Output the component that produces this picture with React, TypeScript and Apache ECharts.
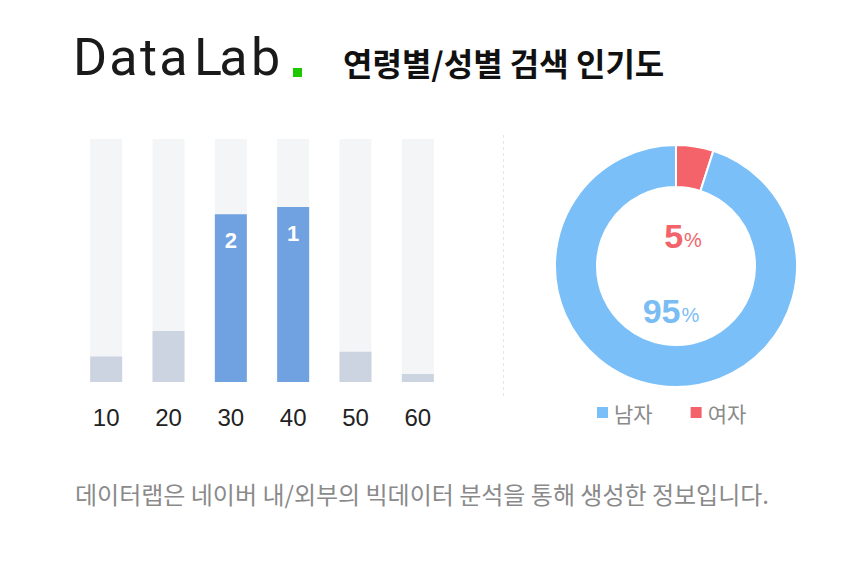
import React, { useEffect, useRef } from "react";
import * as echarts from "echarts";

const ageCategories = ["10", "20", "30", "40", "50", "60"];
const ageValues = [10.5, 21, 69, 72, 12.5, 3.3];
const ageRanks = ["", "", "2", "1", "", ""];
const genderNames = ["여자", "남자"];
const genderValues = [5, 95];
const legendOrder = ["남자", "여자"];
const titleText = "연령별/성별 검색 인기도";
const footerText = "데이터랩은 네이버 내/외부의 빅데이터 분석을 통해 생성한 정보입니다.";
const logoLetters = ["D", "a", "t", "a", "L", "a", "b"];

const KR = '"Noto Sans CJK KR", "Noto Sans", sans-serif';
const NUM = '"Liberation Sans", Arial, sans-serif';

export default function App() {
  const ref = useRef<HTMLDivElement>(null);

  useEffect(() => {
    document.body.style.margin = "0";
    if (!ref.current) return;
    const chart = echarts.init(ref.current, null, { renderer: "svg" });

    const logoX = [90, 123.5, 148.5, 173.5, 208, 233.5, 265.5];
    const logoGraphics: any[] = logoLetters.map((ch, i) => ({
      type: "text",
      x: logoX[i],
      y: 57,
      style: {
        text: ch,
        fontFamily: "Roboto, sans-serif",
        fontWeight: 400,
        fontSize: 52,
        fill: "#1a1a1a",
        align: "center",
        verticalAlign: "middle",
      },
    }));

    const female = genderValues[0];
    const male = genderValues[1];

    chart.setOption({
      animation: false,
      backgroundColor: "#ffffff",
      grid: { left: 75, right: 850 - 449, top: 139, bottom: 563 - 382 },
      xAxis: {
        type: "category",
        data: ageCategories,
        axisLine: { show: false },
        axisTick: { show: false },
        axisLabel: { color: "#222", fontSize: 24, fontFamily: NUM, margin: 23 },
      },
      yAxis: {
        type: "value",
        min: 0,
        max: 100,
        show: false,
        splitLine: { show: false },
      },
      legend: {
        data: legendOrder,
        left: 595,
        top: 402,
        padding: 0,
        itemWidth: 13,
        itemHeight: 13,
        itemGap: 36,
        icon: "rect",
        textStyle: { color: "#8a8a8a", fontSize: 21, fontFamily: KR },
      },
      series: [
        {
          type: "bar",
          barWidth: 32,
          showBackground: true,
          backgroundStyle: { color: "#f4f5f7" },
          data: ageValues.map((v, i) => ({
            value: v,
            itemStyle: { color: ageRanks[i] ? "#70a1e1" : "#cdd4e1" },
            label: {
              show: !!ageRanks[i],
              formatter: () => ageRanks[i],
              position: "insideTop",
              distance: 15,
              color: "#fff",
              fontSize: 22,
              fontWeight: "bold",
              fontFamily: NUM,
            },
          })),
        },
        {
          type: "pie",
          center: [676, 266],
          radius: [79, 121],
          startAngle: 90,
          clockwise: true,
          label: { show: false },
          labelLine: { show: false },
          emphasis: { disabled: true },
          itemStyle: { borderColor: "#fff", borderWidth: 2 },
          data: genderNames.map((n, i) => ({
            name: n,
            value: genderValues[i],
            itemStyle: { color: n === "남자" ? "#7abff8" : "#f5636a" },
          })),
        },
      ],
      graphic: [
        ...logoGraphics,
        {
          type: "rect",
          shape: { x: 293, y: 68, width: 9, height: 9 },
          style: { fill: "#1ec800" },
        },
        {
          type: "text",
          x: 343,
          y: 62,
          style: {
            text: titleText,
            fontFamily: KR,
            fontWeight: "bold",
            fontSize: 32,
            fill: "#111",
            align: "left",
            verticalAlign: "middle",
          },
        },
        {
          type: "line",
          shape: { x1: 503.5, y1: 135, x2: 503.5, y2: 397 },
          style: { stroke: "#e6e6e6", lineWidth: 1, lineDash: [3, 3] },
        },
        {
          type: "text",
          x: 683,
          y: 236,
          style: {
            text: `{n|${female}}{p|%}`,
            align: "center",
            verticalAlign: "middle",
            rich: {
              n: { fontSize: 34, fontWeight: "bold", fill: "#f2646a", fontFamily: NUM },
              p: { fontSize: 20, fill: "#f2646a", fontFamily: NUM, padding: [7, 0, 0, 1] },
            },
          },
        },
        {
          type: "text",
          x: 671,
          y: 311,
          style: {
            text: `{n|${male}}{p|%}`,
            align: "center",
            verticalAlign: "middle",
            rich: {
              n: { fontSize: 34, fontWeight: "bold", fill: "#7abcf4", fontFamily: NUM },
              p: { fontSize: 20, fill: "#7abcf4", fontFamily: NUM, padding: [7, 0, 0, 1] },
            },
          },
        },
        {
          type: "text",
          x: 75,
          y: 493,
          style: {
            text: footerText,
            fontFamily: KR,
            fontSize: 24,
            fill: "#8a8a8a",
            align: "left",
            verticalAlign: "middle",
          },
        },
      ],
    });

    return () => chart.dispose();
  }, []);

  return <div ref={ref} style={{ width: 850, height: 563 }} />;
}
